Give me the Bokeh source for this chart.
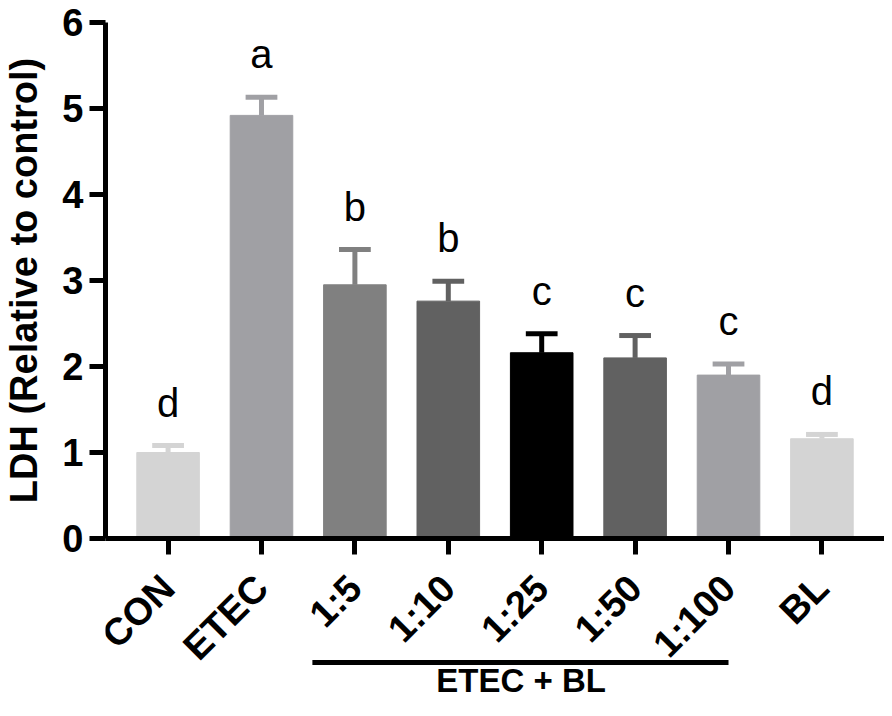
import math
from bokeh.plotting import figure
from bokeh.layouts import column
from bokeh.models import ColumnDataSource, FactorRange
from bokeh.core.properties import value
from bokeh.embed import file_html
from bokeh.resources import INLINE

# ---- data ----
groups = ["CON", "ETEC", "1:5", "1:10", "1:25", "1:50", "1:100", "BL"]
ldh_mean = [1.00, 4.92, 2.95, 2.76, 2.16, 2.10, 1.90, 1.16]
ldh_sd = [0.08, 0.21, 0.41, 0.23, 0.22, 0.26, 0.13, 0.05]
sig_letters = ["d", "a", "b", "b", "c", "c", "c", "d"]
bar_colors = ["#d4d4d4", "#a0a0a4", "#808080", "#616161", "#000000", "#616161", "#a0a0a4", "#d4d4d4"]
y_ticks = [0, 1, 2, 3, 4, 5, 6]
combo_groups = ["1:5", "1:10", "1:25", "1:50", "1:100"]
combo_label = "ETEC + BL"
y_title = "LDH (Relative to control)"

FONT = "Liberation Sans"

upper = [m + s for m, s in zip(ldh_mean, ldh_sd)]
src = ColumnDataSource(dict(
    group=groups,
    mean=ldh_mean,
    upper=upper,
    color=bar_colors,
    letter=sig_letters,
    letter_y=[u + 0.5 for u in upper],
    cap_l=[(g, -0.17) for g in groups],
    cap_r=[(g, 0.17) for g in groups],
))

x_range = FactorRange(factors=groups, range_padding=0.17, range_padding_units="absolute")

# ---- main plot ----
p = figure(x_range=x_range, y_range=(0, 6), width=884, height=559,
           output_backend="svg", toolbar_location=None,
           min_border_left=101, min_border_right=0, min_border_top=22, min_border_bottom=21)

p.vbar(x="group", top="mean", width=0.67, fill_color="color", line_color="color", source=src)
p.segment(x0="group", y0="mean", x1="group", y1="upper", line_color="color", line_width=5, source=src)
p.segment(x0="cap_l", y0="upper", x1="cap_r", y1="upper", line_color="color", line_width=5, source=src)
p.text(x="group", y="letter_y", text="letter", text_align="center", text_baseline="alphabetic",
       text_font=value(FONT), text_font_size="40px", text_color="black", source=src)

p.xgrid.visible = False
p.ygrid.visible = False
p.outline_line_color = None
p.background_fill_color = "white"
p.border_fill_color = "white"

for ax in (p.xaxis[0], p.yaxis[0]):
    ax.axis_line_width = 5
    ax.axis_line_color = "black"
    ax.major_tick_line_width = 5
    ax.major_tick_line_color = "black"
    ax.major_tick_out = 16
    ax.major_tick_in = 0
    ax.minor_tick_line_color = None
    ax.major_label_text_font = FONT
    ax.major_label_text_font_style = "bold"
    ax.major_label_text_font_size = "38px"
    ax.major_label_text_color = "black"

p.yaxis.ticker = y_ticks
p.yaxis.major_label_standoff = 6
p.yaxis.axis_label = y_title
p.yaxis.axis_label_text_font = FONT
p.yaxis.axis_label_text_font_style = "bold"
p.yaxis.axis_label_text_font_size = "38px"
p.yaxis.axis_label_text_color = "black"
p.yaxis.axis_label_standoff = 14

# x-axis keeps its line and ticks; its category names are drawn (rotated) just below
p.xaxis.major_label_text_font_size = "1px"
p.xaxis.major_label_text_color = None
p.xaxis.major_label_standoff = 0

# ---- category names, group bracket and group name below the axis ----
p2 = figure(x_range=x_range, y_range=(0, 1), width=884, height=141,
            output_backend="svg", toolbar_location=None,
            x_axis_location=None, y_axis_location=None,
            min_border_left=101, min_border_right=0, min_border_top=0, min_border_bottom=0)
p2.xgrid.visible = False
p2.ygrid.visible = False
p2.outline_line_color = None
p2.background_fill_color = "white"
p2.border_fill_color = "white"

p2.text(x=groups, y=[0.844] * len(groups), text=groups, angle=math.pi / 4,
        text_align="right", text_baseline="middle", text_font=value(FONT),
        text_font_style="bold", text_font_size="38px", text_color="black")
p2.segment(x0=[(combo_groups[0], -0.455)], y0=[0.27], x1=[(combo_groups[-1], 0.0)], y1=[0.27],
           line_width=5, line_color="black")
p2.text(x=[(combo_groups[2], -0.22)], y=[0.142], text=[combo_label], text_align="center",
        text_baseline="middle", text_font=value(FONT), text_font_style="bold",
        text_font_size="33px", text_color="black")

layout = column(p, p2, spacing=0)
open("out.html", "w").write(file_html(layout, INLINE))
